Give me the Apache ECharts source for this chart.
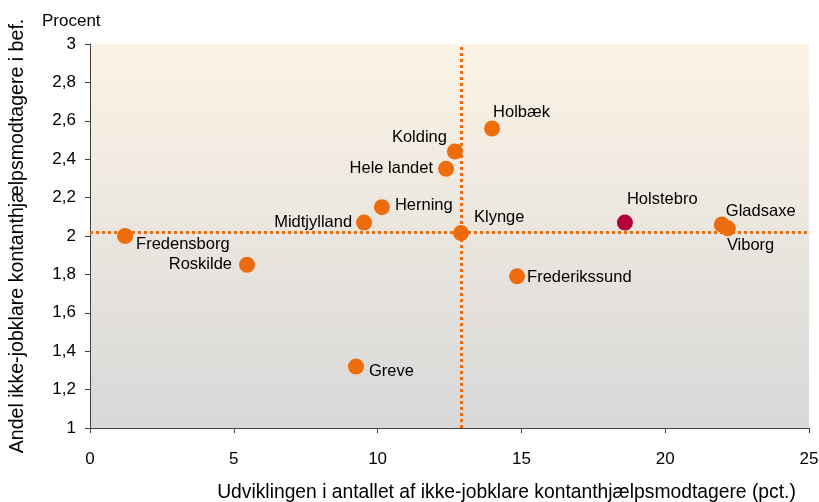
<!DOCTYPE html>
<html><head><meta charset="utf-8">
<script src="https://cdn.jsdelivr.net/npm/echarts@6/dist/echarts.min.js"></script>
<style>html,body{margin:0;padding:0;background:#fff}#c{width:819px;height:502px}</style>
</head><body><div id="c"></div>
<script>
const names = ['Fredensborg','Roskilde','Greve','Midtjylland','Herning','Hele landet','Kolding','Klynge','Holbæk','Frederikssund','Holstebro','Gladsaxe','Viborg'];
const xVals = [1.22, 5.46, 9.25, 9.53, 10.15, 12.38, 12.69, 12.9, 13.98, 14.85, 18.6, 21.97, 22.18];
const yVals = [2.0, 1.85, 1.32, 2.07, 2.15, 2.35, 2.44, 2.015, 2.56, 1.79, 2.07, 2.06, 2.04];
const refX = 12.9;
const refY = 2.015;
const xTicks = [0,5,10,15,20,25];
const yTicks = [1,1.2,1.4,1.6,1.8,2,2.2,2.4,2.6,2.8,3];

// label anchor offsets from the dot centre: [dx, dy, align]
const labelOffsets = {
  'Fredensborg':[11,8,'left'], 'Roskilde':[-15,0,'right'], 'Greve':[13,5,'left'],
  'Midtjylland':[-12,0,'right'], 'Herning':[13,-2,'left'], 'Hele landet':[-13,0,'right'],
  'Kolding':[-8,-14,'right'], 'Klynge':[13,-16,'left'], 'Holbæk':[1,-16,'left'],
  'Frederikssund':[10,1,'left'], 'Holstebro':[2,-23,'left'], 'Gladsaxe':[4,-13,'left'],
  'Viborg':[-1,17,'left']
};
const SYM = 16;
const data = names.map((n,i)=>{
  const o = labelOffsets[n];
  const d = {value:[xVals[i], yVals[i]], name:n,
    label:{show:true, formatter:n, position:[SYM/2+o[0], SYM/2+o[1]], align:o[2], verticalAlign:'middle',
      color:'#000', fontSize:16.5, fontFamily:'Liberation Sans, Arial, sans-serif'}};
  if (n==='Holstebro') d.itemStyle = {color:'#B4003A', opacity:1};
  return d;
});

const chart = echarts.init(document.getElementById('c'));
chart.setOption({
  animation:false,
  textStyle:{fontFamily:'Liberation Sans, Arial, sans-serif'},
  grid:{left:90, right:10, top:44, bottom:74, show:true, borderWidth:0, containLabel:false, outerBoundsMode:'none',
    backgroundColor:{type:'linear',x:0,y:0,x2:0,y2:1,colorStops:[{offset:0,color:'#FCF3E5'},{offset:1,color:'#D8D8D8'}]}},
  xAxis:{type:'value', min:0, max:25, interval:5,
    axisLine:{show:true, onZero:false, lineStyle:{color:'#404040', width:1}},
    axisTick:{show:true, length:5, lineStyle:{color:'#404040'}},
    splitLine:{show:false},
    axisLabel:{color:'#000', fontSize:17, margin:23, formatter:v=>String(v)},
    name:'Udviklingen i antallet af ikke-jobklare kontanthjælpsmodtagere (pct.)',
    nameLocation:'middle', nameGap:55, nameTextStyle:{color:'#000', fontSize:19.3, padding:[0,0,0,114]}
  },
  yAxis:{type:'value', min:1, max:3, interval:0.2,
    axisLine:{show:true, onZero:false, lineStyle:{color:'#404040', width:1}},
    axisTick:{show:true, length:5, lineStyle:{color:'#404040'}},
    splitLine:{show:false},
    axisLabel:{color:'#000', fontSize:17, margin:14, formatter:v=>String(Math.round(v*10)/10).replace('.',',')},
    name:'Andel ikke-jobklare kontanthjælpsmodtagere i bef.',
    nameLocation:'middle', nameGap:62, nameTextStyle:{color:'#000', fontSize:19.6}
  },
  graphic:[{type:'text', left:42, top:13, style:{text:'Procent', fontSize:17, fill:'#000', fontFamily:'Liberation Sans, Arial, sans-serif'}}],
  series:[{
    type:'scatter', symbolSize:SYM, itemStyle:{color:'#EC6C0E', opacity:1},
    data:data,
    markLine:{silent:true, symbol:'none', label:{show:false}, animation:false,
      lineStyle:{color:'#EC6C0E', width:3, type:[3,3], opacity:1},
      data:[{xAxis:refX},{yAxis:refY}]},
    z:3
  }]
});
</script></body></html>
